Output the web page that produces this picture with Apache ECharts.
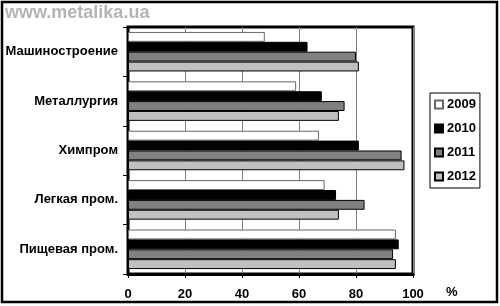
<!DOCTYPE html>
<html>
<head>
<meta charset="utf-8">
<script src="https://cdn.jsdelivr.net/npm/echarts@6/dist/echarts.min.js"></script>
<style>
  html, body { margin: 0; padding: 0; background: #fff; }
  #chart { width: 500px; height: 306px; }
</style>
</head>
<body>
<div id="chart"></div>
<script>
// отрасли сверху вниз
const categories = ['Машиностроение', 'Металлургия', 'Химпром', 'Легкая пром.', 'Пищевая пром.'];
const years = ['2009', '2010', '2011', '2012'];
const values2009 = [48, 59, 67, 69, 94];
const values2010 = [63, 68, 81, 73, 95];
const values2011 = [80, 76, 96, 83, 93];
const values2012 = [81, 74, 97, 74, 94];
const xTicks = [0, 20, 40, 60, 80, 100];

const colorList = ['#ffffff', '#000000', '#808080', '#c0c0c0'];
const borderList = ['#666666', '#000000', '#000000', '#000000'];
const font = 'Liberation Sans, Arial, sans-serif';

const myChart = echarts.init(document.getElementById('chart'), null, { renderer: 'canvas' });

const seriesList = [values2009, values2010, values2011, values2012].map((vals, i) => ({
  name: years[i],
  type: 'bar',
  data: vals,
  barGap: '0%',
  barCategoryGap: '20%',
  itemStyle: {
    color: colorList[i],
    borderColor: borderList[i],
    borderWidth: 1
  }
}));

const option = {
  animation: false,
  backgroundColor: '#fff',
  textStyle: { fontFamily: font },
  grid: {
    left: 128,
    top: 27,
    width: 285,
    height: 247,
    show: true,
    borderColor: '#000',
    borderWidth: 3,
    backgroundColor: 'transparent'
  },
  legend: {
    data: years,
    orient: 'vertical',
    left: 430,
    top: 93,
    padding: [5, 4, 5, 4],
    itemWidth: 8,
    itemHeight: 8,
    itemGap: 11,
    borderColor: '#000',
    borderWidth: 1,
    icon: 'rect',
    textStyle: { fontSize: 13, fontWeight: 'bold', color: '#000', padding: [0, 0, 0, -1] }
  },
  xAxis: {
    type: 'value',
    min: xTicks[0],
    max: xTicks[xTicks.length - 1],
    interval: 20,
    axisLine: { show: true, lineStyle: { color: '#000', width: 3 } },
    axisTick: { show: true, length: 4, lineStyle: { color: '#000' } },
    axisLabel: { color: '#000', fontSize: 13, fontWeight: 'bold', margin: 14 },
    splitLine: { show: true, lineStyle: { color: '#808080', width: 1 } }
  },
  yAxis: {
    type: 'category',
    data: categories,
    inverse: true,
    axisLine: { show: true, lineStyle: { color: '#000', width: 2 } },
    axisTick: { show: true, length: 5, lineStyle: { color: '#000' } },
    axisLabel: { color: '#000', fontSize: 13, fontWeight: 'bold', margin: 10 },
    splitLine: { show: false }
  },
  graphic: [
    {
      type: 'rect',
      shape: { x: 2, y: 2, width: 495, height: 300 },
      style: { fill: 'none', stroke: '#000', lineWidth: 2.5 },
      silent: true
    },
    {
      type: 'text',
      left: 5,
      top: 4,
      style: { text: 'www.metalika.ua', fill: '#b4b4b4', font: 'bold 18px ' + font }
    },
    {
      type: 'text',
      left: 446,
      top: 286,
      style: { text: '%', fill: '#000', font: 'bold 13px ' + font }
    }
  ],
  series: seriesList
};

myChart.setOption(option);
</script>
</body>
</html>
